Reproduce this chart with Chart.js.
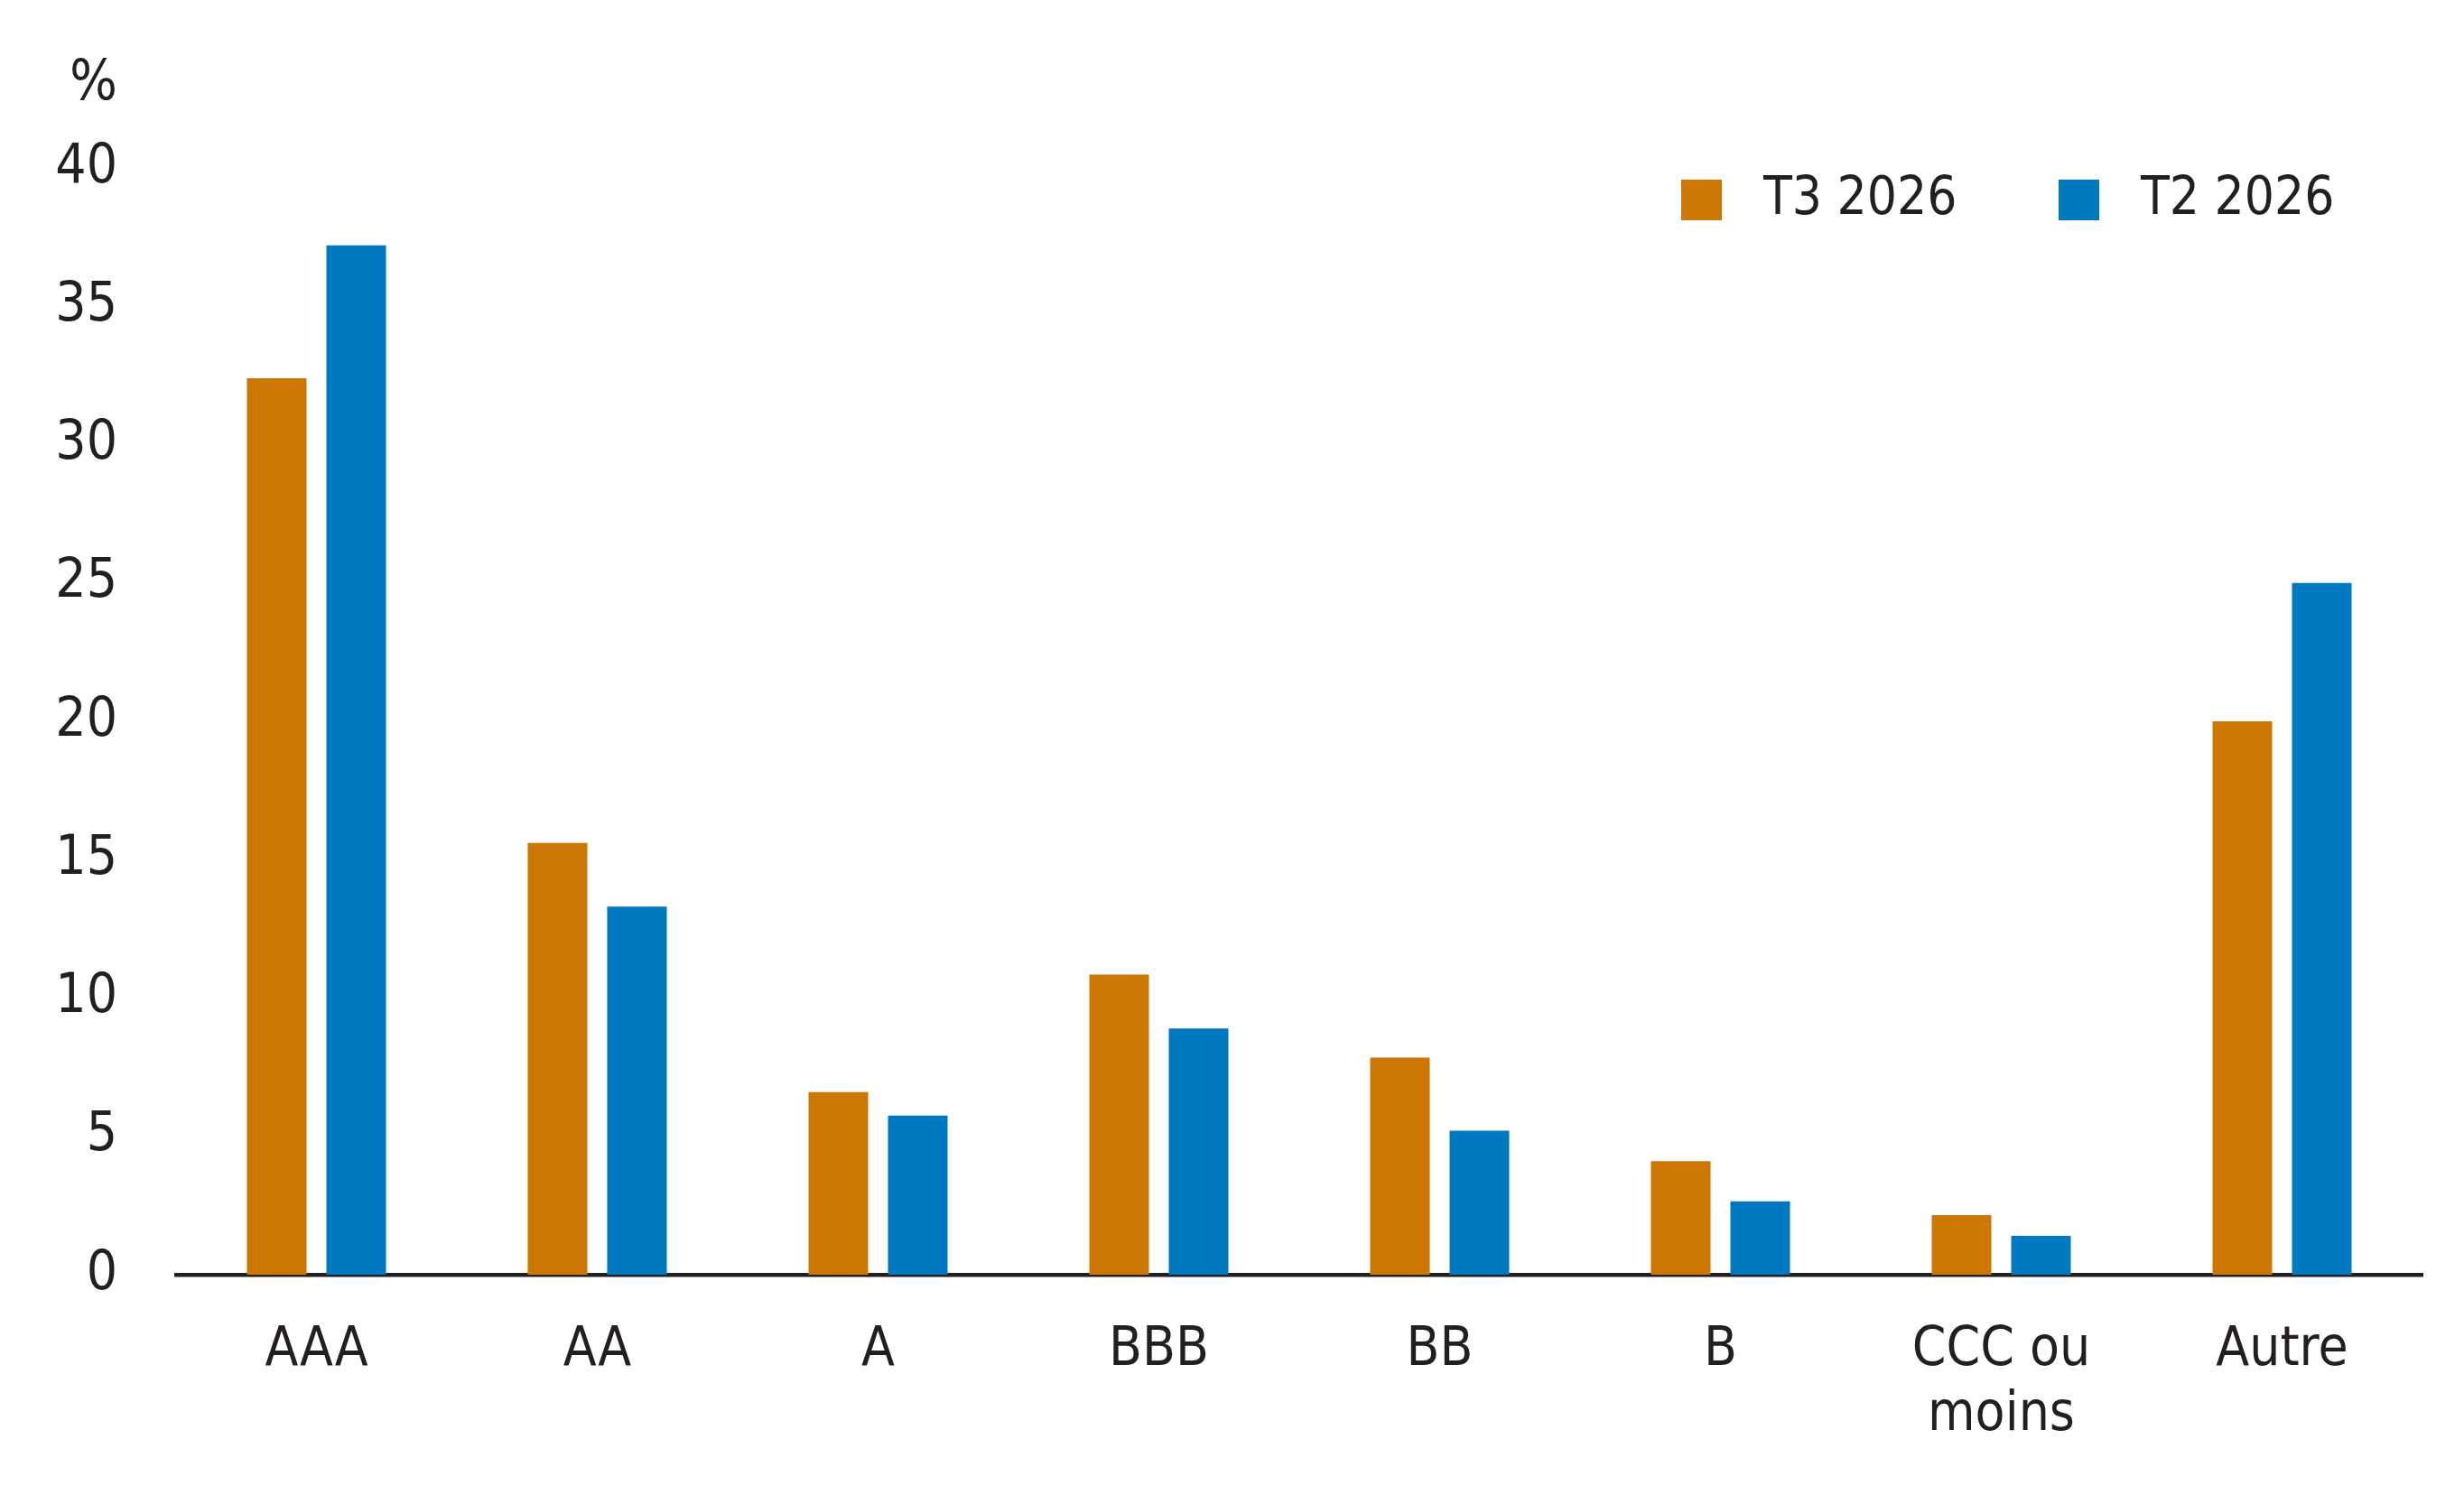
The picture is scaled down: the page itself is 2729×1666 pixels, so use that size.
<!DOCTYPE html>
<html>
<head>
<meta charset="utf-8">
<script src="https://cdn.jsdelivr.net/npm/chart.js@4.4.1/dist/chart.umd.min.js"></script>
<style>
  body { margin: 0; background: #fff; }
  #wrap { width: 2729px; height: 1666px; }
</style>
</head>
<body>
<div id="wrap"><canvas id="myChart" width="2729" height="1666"></canvas></div>
<script>
var ratings = ['AAA', 'AA', 'A', 'BBB', 'BB', 'B', ['CCC ou', 'moins'], 'Autre'];
var t3 = [32.4, 15.6, 6.6, 10.85, 7.85, 4.1, 2.15, 20.0];
var t2 = [37.2, 13.3, 5.75, 8.9, 5.2, 2.65, 1.4, 25.0];
var yTicks = [0, 5, 10, 15, 20, 25, 30, 35, 40];
var unit = '%';

var font = "'Liberation Sans Narrow', 'DejaVu Sans Condensed', 'Noto Sans', sans-serif";
var ink = '#231f20';

// "%" above the tick column, legend top right
var decor = {
  id: 'decor',
  afterDraw: function(chart) {
    var ctx = chart.ctx;
    var area = chart.chartArea;
    ctx.save();
    ctx.font = '62px ' + font;
    ctx.fillStyle = ink;
    ctx.textBaseline = 'middle';
    ctx.textAlign = 'right';
    ctx.fillText(unit, area.left - 65, 94);

    ctx.font = '58px ' + font;
    ctx.textAlign = 'left';
    var boxX = [1862, 2280];
    chart.data.datasets.forEach(function(ds, i) {
      ctx.fillStyle = ds.backgroundColor;
      ctx.fillRect(boxX[i], 199, 45, 45);
      ctx.fillStyle = ink;
      ctx.fillText(ds.label, boxX[i] + 91, 222);
    });
    ctx.restore();
  }
};

var ctx = document.getElementById('myChart');
var myChart = new Chart(ctx, {
  type: 'bar',
  data: {
    labels: ratings,
    datasets: [
      { label: 'T3 2026', data: t3, backgroundColor: '#CC7704',
        categoryPercentage: 0.566, barPercentage: 0.75 },
      { label: 'T2 2026', data: t2, backgroundColor: '#0079C1',
        categoryPercentage: 0.566, barPercentage: 0.75 }
    ]
  },
  options: {
    responsive: false,
    devicePixelRatio: 1,
    animation: false,
    layout: { padding: { top: 186, right: 46, left: 0, bottom: 0 } },
    plugins: {
      legend: { display: false },
      tooltip: { enabled: false }
    },
    scales: {
      x: {
        z: 1,
        grid: { display: false, drawTicks: false },
        border: { display: true, color: ink, width: 4.5 },
        ticks: { color: ink, padding: 48, font: { family: font, size: 60 } },
        afterFit: function(scale) { scale.height = 254; }
      },
      y: {
        min: 0,
        max: 40,
        afterBuildTicks: function(scale) {
          scale.ticks = yTicks.map(function(v) { return { value: v }; });
        },
        grid: { display: false, drawTicks: false },
        border: { display: false },
        ticks: { color: ink, padding: 65, font: { family: font, size: 60 } },
        afterFit: function(scale) { scale.width = 195; }
      }
    }
  },
  plugins: [decor]
});
</script>
</body>
</html>
